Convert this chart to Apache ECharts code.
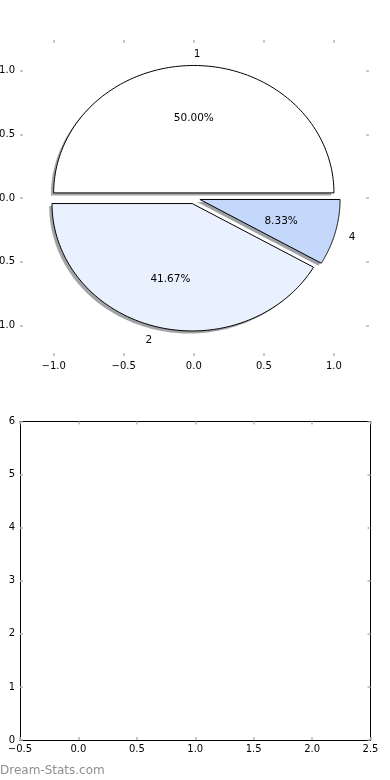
<!DOCTYPE html>
<html>
<head>
<meta charset="utf-8">
<script src="https://cdn.jsdelivr.net/npm/echarts@6/dist/echarts.min.js"></script>
<style>html,body{margin:0;padding:0;background:#fff;}#c{width:390px;height:780px;}</style>
</head>
<body>
<div id="c"></div>
<script>
// ---- data ----
const categories = ['1', '2', '4'];
const values = [6, 5, 1];
const sliceColors = ['#ffffff', '#eaf1fe', '#c4d8fc'];
const pieTicks = [-1, -0.5, 0, 0.5, 1];
const barXTicks = [-0.5, 0, 0.5, 1, 1.5, 2, 2.5];
const barYTicks = [0, 1, 2, 3, 4, 5, 6];

// ---- derived ----
const total = values.reduce((a, b) => a + b, 0);
const explode = [0.04, 0.045, 0.045];
let acc = 0;
const slices = values.map((v, i) => {
  const a0 = acc / total * 2 * Math.PI;
  acc += v;
  const a1 = acc / total * 2 * Math.PI;
  return { a0, a1, pct: (v / total * 100).toFixed(2) + '%' };
});

const FONT = '10.5px "DejaVu Sans"';
const TXT_DY = 1.5;
const fmt = v => (v < 0 ? '\u2212' : '') + Math.abs(v).toFixed(1);

function wedgePoints(api, i, ox, oy) {
  const s = slices[i];
  const mid = (s.a0 + s.a1) / 2;
  const d = explode[i];
  const cx = d * Math.cos(mid) + ox, cy = d * Math.sin(mid) + oy;
  const pts = [api.coord([cx, cy])];
  const N = 120;
  for (let k = 0; k <= N; k++) {
    const t = s.a0 + (s.a1 - s.a0) * k / N;
    pts.push(api.coord([cx + Math.cos(t), cy + Math.sin(t)]));
  }
  return pts;
}

function shade(hex) {
  const r = parseInt(hex.slice(1, 3), 16) * 0.3, g = parseInt(hex.slice(3, 5), 16) * 0.3, b = parseInt(hex.slice(5, 7), 16) * 0.3;
  return 'rgba(' + Math.round(r) + ',' + Math.round(g) + ',' + Math.round(b) + ',0.5)';
}

const tickStyle = { show: true, inside: true, length: 3, lineStyle: { color: '#b8b8b8', width: 1.5 } };
const noLine = { show: false, onZero: false };
const blackLine = { show: true, onZero: false, lineStyle: { color: '#000', width: 1 } };
const lbl = { color: '#000', fontFamily: 'DejaVu Sans', fontSize: 10 };

const chart = echarts.init(document.getElementById('c'), null, { renderer: 'canvas' });
chart.setOption({
  animation: false,
  backgroundColor: '#fff',
  grid: [
    { left: 20, top: 40, width: 349, height: 316, containLabel: false, outerBoundsMode: 'none' },
    { left: 20, top: 421.5, width: 350.5, height: 318.5, containLabel: false, outerBoundsMode: 'none' }
  ],
  xAxis: [
    { gridIndex: 0, type: 'value', position: 'bottom', min: -1.24, max: 1.25,
      axisLine: noLine, splitLine: { show: false },
      axisTick: Object.assign({ customValues: pieTicks }, tickStyle),
      axisLabel: Object.assign({ customValues: pieTicks, margin: 5, formatter: fmt }, lbl) },
    { gridIndex: 0, type: 'value', position: 'top', min: -1.24, max: 1.25,
      axisLine: noLine, splitLine: { show: false },
      axisTick: Object.assign({ customValues: pieTicks }, tickStyle),
      axisLabel: { show: false } },
    { gridIndex: 1, type: 'value', position: 'bottom', min: -0.5, max: 2.5, interval: 0.5,
      axisLine: blackLine, splitLine: { show: false }, axisTick: tickStyle,
      axisLabel: Object.assign({ margin: 4, formatter: fmt, showMinLabel: true, showMaxLabel: true }, lbl) },
    { gridIndex: 1, type: 'value', position: 'top', min: -0.5, max: 2.5, interval: 0.5,
      axisLine: blackLine, splitLine: { show: false }, axisTick: tickStyle,
      axisLabel: { show: false } }
  ],
  yAxis: [
    { gridIndex: 0, type: 'value', position: 'left', min: -1.24, max: 1.24,
      axisLine: noLine, splitLine: { show: false },
      axisTick: Object.assign({ customValues: pieTicks }, tickStyle),
      axisLabel: Object.assign({ customValues: pieTicks, margin: 5, formatter: fmt }, lbl) },
    { gridIndex: 0, type: 'value', position: 'right', min: -1.24, max: 1.24,
      axisLine: noLine, splitLine: { show: false },
      axisTick: Object.assign({ customValues: pieTicks }, tickStyle),
      axisLabel: { show: false } },
    { gridIndex: 1, type: 'value', position: 'left', min: 0, max: 6, interval: 1,
      axisLine: blackLine, splitLine: { show: false }, axisTick: tickStyle,
      axisLabel: Object.assign({ margin: 5, formatter: v => String(v) }, lbl) },
    { gridIndex: 1, type: 'value', position: 'right', min: 0, max: 6, interval: 1,
      axisLine: blackLine, splitLine: { show: false }, axisTick: tickStyle,
      axisLabel: { show: false } }
  ],
  series: [
    { type: 'custom', xAxisIndex: 0, yAxisIndex: 0, z: 1, clip: false,
      data: values.map((v, i) => [i, v]),
      renderItem: function (params, api) {
        const i = params.dataIndex;
        return { type: 'polygon', shape: { points: wedgePoints(api, i, -0.02, -0.02) },
                 style: { fill: shade(sliceColors[i]), stroke: null } };
      } },
    { type: 'custom', xAxisIndex: 0, yAxisIndex: 0, z: 2, clip: false,
      data: values.map((v, i) => [i, v]),
      renderItem: function (params, api) {
        const i = params.dataIndex;
        const s = slices[i];
        const mid = (s.a0 + s.a1) / 2;
        const d = explode[i];
        const cx = d * Math.cos(mid), cy = d * Math.sin(mid);
        const pp = api.coord([cx + 0.6 * Math.cos(mid), cy + 0.6 * Math.sin(mid)]);
        const lx = cx + 1.1 * Math.cos(mid), ly = cy + 1.1 * Math.sin(mid);
        const lp = api.coord([lx, ly]);
        return { type: 'group', children: [
          { type: 'polygon', shape: { points: wedgePoints(api, i, 0, 0) },
            style: { fill: sliceColors[i], stroke: '#000', lineWidth: 1 } },
          { type: 'text', style: { text: s.pct, x: pp[0], y: pp[1] + TXT_DY, align: 'center', verticalAlign: 'middle', fill: '#000', font: FONT } },
          { type: 'text', style: { text: categories[i], x: lp[0], y: lp[1] + TXT_DY, align: lx > 0 ? 'left' : 'right', verticalAlign: 'middle', fill: '#000', font: FONT } }
        ] };
      } },
    { type: 'line', xAxisIndex: 2, yAxisIndex: 2, data: [] }
  ],
  graphic: [
    { type: 'text', left: 0, top: 765, style: { text: 'Dream-Stats.com', fill: '#8e8e8e', font: '12px "DejaVu Sans"' } }
  ]
});
</script>
</body>
</html>
